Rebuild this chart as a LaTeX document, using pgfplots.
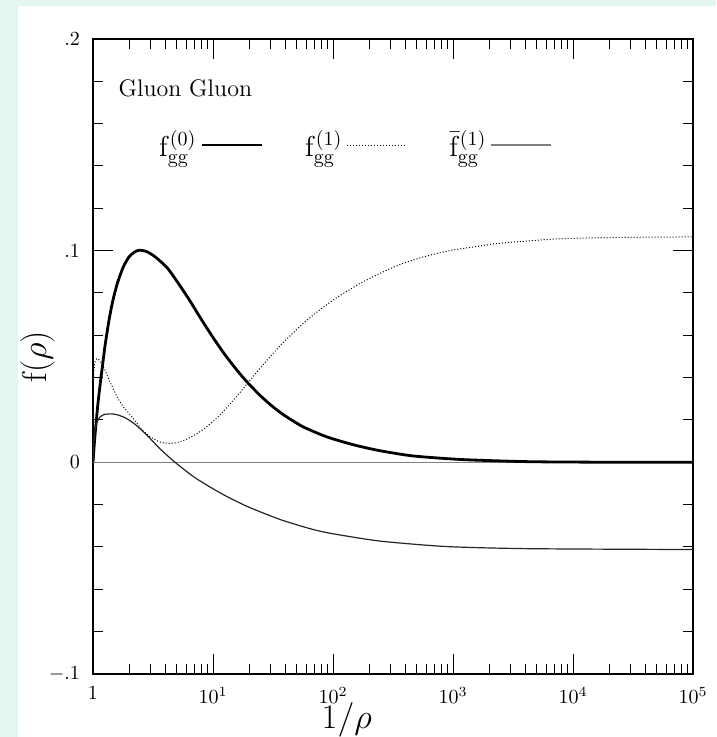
\documentclass[border=0pt]{standalone}
\usepackage{pgfplots}
\pgfplotsset{compat=1.18}
\definecolor{bgcyan}{RGB}{227,246,242}
\begin{document}
\begin{tikzpicture}
\fill[bgcyan] (-46.5pt,-31.5pt) rectangle (311.5pt,337pt);
\fill[white] (-37.5pt,-31.5pt) rectangle (311.5pt,334pt);
\begin{axis}[
  xmode=log,
  scale only axis,
  width=300pt, height=317.5pt,
  xmin=1, xmax=1e5,
  ymin=-0.1, ymax=0.2,
  xtick={1,10,100,1000,10000,100000},
  xticklabels={$1$,$10^{1}$,$10^{2}$,$10^{3}$,$10^{4}$,$10^{5}$},
  ytick={-0.1,0,0.1,0.2},
  yticklabels={$-.1$,$0$,$.1$,$.2$},
  minor ytick={-0.08,-0.06,-0.04,-0.02,0.02,0.04,0.06,0.08,0.12,0.14,0.16,0.18},
  tick align=inside,
  major tick length=10pt,
  minor tick length=5pt,
  every tick/.style={black, line width=0.5pt},
  axis line style={line width=0.6pt},
  yticklabel style={xshift=-3pt},
  xticklabel style={yshift=-3pt},
  xlabel={$1/\rho$},
  ylabel={$\mathrm{f}(\rho)$},
  xlabel style={at={(axis description cs:0.423,-0.072)}, anchor=center, font=\LARGE},
  ylabel style={at={(axis description cs:-0.0925,0.5)}, anchor=center, font=\LARGE},
  legend plot pos=right,
  legend columns=3,
  legend image code/.code={\draw[#1] (0pt,0pt) -- (30pt,0pt);},
  legend style={draw=none, fill=none, at={(rel axis cs:0.093,0.833)}, anchor=west,
    font=\Large, /tikz/every even column/.append style={column sep=19pt},
    /tikz/every odd column/.append style={column sep=0pt}},
]
\addlegendimage{black, line width=1.4pt}
\addlegendentry{$\mathrm{f}_{\mathrm{gg}}^{(0)}$}
\addlegendimage{black, line width=0.5pt, densely dotted}
\addlegendentry{$\mathrm{f}_{\mathrm{gg}}^{(1)}$}
\addlegendimage{gray, line width=0.8pt}
\addlegendentry{$\bar{\mathrm{f}}_{\mathrm{gg}}^{(1)}$}

\addplot[gray, line width=0.8pt, forget plot] coordinates {(1,0) (100000,0)};

\addplot[black, line width=1.4pt, smooth, tension=0.4, forget plot] coordinates {
(1,0) (1.023,0.008) (1.047,0.015) (1.096,0.027) (1.148,0.037) (1.202,0.046)
(1.259,0.055) (1.349,0.066) (1.445,0.075) (1.585,0.084) (1.778,0.092) (1.995,0.097)
(2.239,0.0995) (2.455,0.1002) (2.818,0.0995) (3.311,0.097) (4.14,0.092) (5.012,0.0855)
(6.31,0.077) (7.80,0.0685) (10,0.0590) (12.59,0.0508) (15.85,0.0435) (19.19,0.0380)
(25.12,0.0312) (31.62,0.0262) (39.81,0.0220) (56.23,0.0168) (89.1,0.0120)
(147.9,0.0083) (245.5,0.0055) (467.7,0.0030) (1202,0.0013) (4365,0.0003)
(19953,0.00005) (100000,0)};

\addplot[black, line width=0.5pt, densely dotted, smooth, tension=0.4, forget plot] coordinates {
(1,0.036) (1.019,0.044) (1.047,0.048) (1.096,0.049) (1.175,0.047) (1.259,0.0435)
(1.413,0.037) (1.585,0.031) (1.778,0.0265) (2.15,0.021) (2.512,0.016) (2.98,0.0122)
(3.548,0.0098) (4.14,0.009) (5.01,0.0093) (6.06,0.011) (7.94,0.0148) (10.8,0.021)
(14.1,0.028) (19.2,0.037) (26.9,0.047) (38.3,0.0565) (56.2,0.0655) (79.4,0.0725)
(112.2,0.0785) (168,0.0845) (251,0.0895) (363,0.0935) (562,0.097) (933,0.100)
(1585,0.102) (2455,0.1035) (7080,0.1055) (19953,0.1062) (100000,0.1065)};

\addplot[black!85, line width=0.6pt, smooth, tension=0.4, forget plot] coordinates {
(1,0) (1.0116,0.008) (1.035,0.0145) (1.072,0.0185) (1.148,0.0215) (1.259,0.0227)
(1.413,0.0229) (1.585,0.0225) (1.862,0.021) (2.239,0.0180) (2.818,0.0128)
(3.42,0.0078) (3.98,0.0042) (4.83,0) (6.31,-0.0052) (7.36,-0.0079) (10,-0.0125)
(13.1,-0.0162) (19.95,-0.0212) (36.2,-0.0270) (63.1,-0.0312) (94.4,-0.0335)
(245.5,-0.0372) (891,-0.0398) (4365,-0.0408) (100000,-0.0412)};

\node[anchor=west, inner sep=0pt, font=\large] at (rel axis cs:0.042,0.923) {Gluon Gluon};
\end{axis}
\pgfresetboundingbox
\useasboundingbox (-46.5pt,-31.5pt) rectangle (311.5pt,337pt);
\end{tikzpicture}
\end{document}
